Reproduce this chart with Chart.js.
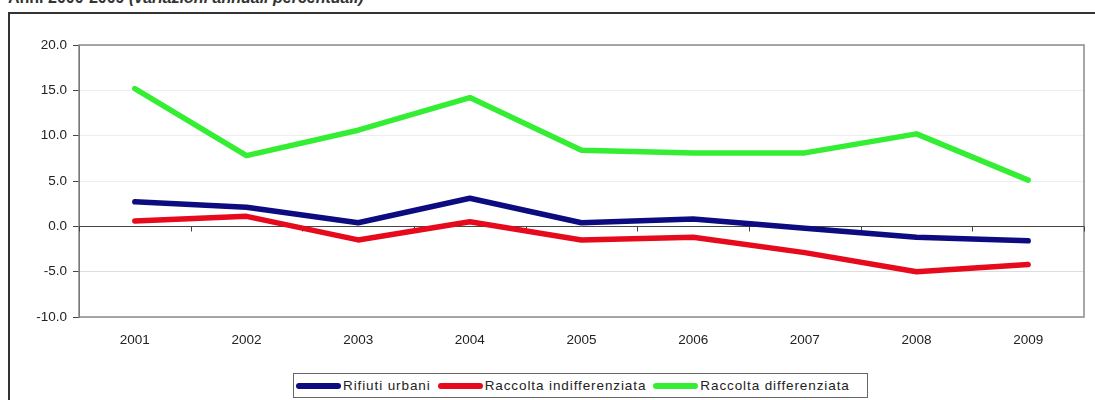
<!DOCTYPE html>
<html>
<head>
<meta charset="utf-8">
<script src="https://cdn.jsdelivr.net/npm/chart.js@4.4.1/dist/chart.umd.min.js"></script>
<style>
  body { margin: 0; background: #fff; font-family: "Liberation Sans", Arial, sans-serif; }
  .wrap { position: relative; width: 1095px; height: 400px; overflow: hidden; }
  .title { position: absolute; left: 8px; top: -11px; font-size: 16px; font-weight: bold; color: #333; white-space: nowrap; }
  .title i { font-weight: bold; }
  .frame { position: absolute; left: 8px; top: 12px; width: 1200px; height: 500px; border: 2px solid #333; box-sizing: border-box; }
  canvas { position: absolute; left: 0; top: 0; }
  .legend { position: absolute; left: 293px; top: 373px; width: 575px; height: 25px; border: 1px solid #666; box-sizing: border-box;
            display: flex; align-items: center; padding-left: 2px; font-size: 13.5px; letter-spacing: 0.9px; color: #222; background: #fff; }
  .legend .item { display: flex; align-items: center; margin-right: 7px; white-space: nowrap; }
  .legend .sw { width: 45px; height: 6px; border-radius: 3px; margin-right: 2px; }
</style>
</head>
<body>
<div class="wrap">
  <div class="title">Anni 2000-2009 <i>(variazioni annuali percentuali)</i></div>
  <div class="frame"></div>
  <canvas id="chart" width="1095" height="400"></canvas>
  <div class="legend" id="legend"></div>
</div>
<script>
// anni
const years = ["2001", "2002", "2003", "2004", "2005", "2006", "2007", "2008", "2009"];

// variazioni annuali percentuali
const rifiutiUrbani = [2.7, 2.1, 0.4, 3.1, 0.4, 0.8, -0.2, -1.2, -1.6];
const raccoltaIndifferenziata = [0.6, 1.1, -1.5, 0.5, -1.5, -1.2, -2.9, -5.0, -4.2];
const raccoltaDifferenziata = [15.2, 7.8, 10.6, 14.2, 8.4, 8.1, 8.1, 10.2, 5.1];

const seriesNames = ["Rifiuti urbani", "Raccolta indifferenziata", "Raccolta differenziata"];
const seriesColors = ["#0c0c80", "#e60a1c", "#33ee33"];
const seriesData = [rifiutiUrbani, raccoltaIndifferenziata, raccoltaDifferenziata];

const tickFont = { family: "Liberation Sans", size: 13.5 };

// frame around the plot + little ticks on the zero line between years
const plotFrame = {
  id: "plotFrame",
  beforeDatasetsDraw(chart) {
    const { ctx, chartArea: a, scales } = chart;
    ctx.save();
    ctx.strokeStyle = "#8a8a8a";
    ctx.lineWidth = 1.5;
    ctx.strokeRect(a.left, a.top, a.right - a.left, a.bottom - a.top);
    ctx.strokeStyle = "#444";
    ctx.lineWidth = 1;
    const y0 = Math.round(scales.y.getPixelForValue(0)) + 0.5;
    ctx.beginPath();
    ctx.moveTo(a.left, y0);
    ctx.lineTo(a.right, y0);
    const step = (a.right - a.left) / years.length;
    for (let i = 0; i <= years.length; i++) {
      const x = Math.round(a.left + i * step) + 0.5;
      ctx.moveTo(x, y0);
      ctx.lineTo(x, y0 + 5);
    }
    ctx.stroke();
    ctx.restore();
  }
};

new Chart(document.getElementById("chart"), {
  type: "line",
  data: {
    labels: years,
    datasets: seriesData.map((d, i) => ({
      label: seriesNames[i],
      data: d,
      borderColor: seriesColors[i],
      backgroundColor: seriesColors[i],
      borderWidth: 5.5,
      borderCapStyle: "round",
      borderJoinStyle: "round",
      pointRadius: 0,
      tension: 0,
    })),
  },
  options: {
    responsive: false,
    animation: false,
    layout: { padding: { left: 10, right: 11, top: 45, bottom: 0 } },
    plugins: { legend: { display: false }, tooltip: { enabled: false } },
    scales: {
      x: {
        offset: true,
        grid: { display: false, drawTicks: false },
        border: { display: false },
        ticks: { padding: 15, color: "#222", font: tickFont },
        afterFit: (s) => { s.height = 83; },
      },
      y: {
        min: -10,
        max: 20,
        ticks: {
          stepSize: 5,
          padding: 6,
          color: "#222",
          font: tickFont,
          callback: (v) => v.toFixed(1),
        },
        grid: {
          color: (c) => (c.tick && c.tick.value === -5 ? "#dddddd" : "#eeeeee"),
          tickColor: "#444",
          tickLength: 6,
        },
        border: { color: "#444", width: 1 },
        afterFit: (s) => { s.width = 69; },
      },
    },
  },
  plugins: [plotFrame],
});

// legenda con riquadro
const legend = document.getElementById("legend");
seriesNames.forEach((name, i) => {
  const item = document.createElement("div");
  item.className = "item";
  item.innerHTML = '<span class="sw" style="background:' + seriesColors[i] + '"></span>' + name;
  legend.appendChild(item);
});
</script>
</body>
</html>
